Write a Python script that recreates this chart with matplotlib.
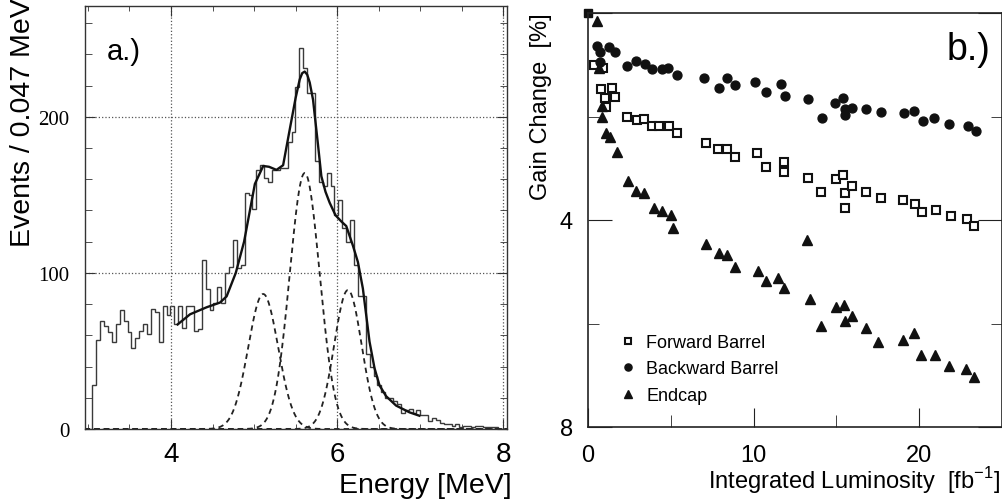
import numpy as np
import matplotlib
matplotlib.use("Agg")
from matplotlib import pyplot as plt
from matplotlib.ticker import MultipleLocator, FixedLocator

plt.rcParams['font.family'] = ['Liberation Sans', 'DejaVu Sans']
plt.rcParams['mathtext.fontset'] = 'custom'
plt.rcParams['mathtext.rm'] = 'Liberation Sans'

# ─── panel a: energy spectrum ─────────────────────────────────
BIN_START = 3.054
BIN_WIDTH = 0.047
counts = [28, 57, 69, 66, 62, 56, 67, 76, 69, 62, 52, 58, 63, 67, 61, 77, 75, 56,
          79, 73, 79, 67, 79, 65, 79, 79, 63, 64,
          108, 90, 76, 81, 91, 81, 100, 104, 121, 103, 105,
          151, 150, 141, 166, 169, 161, 158, 166, 166, 167,
          167, 184, 190, 219, 244,
          231, 215, 215, 172, 158, 156, 164, 156, 137, 147, 129, 120, 134, 105, 85, 85,
          48, 40, 34, 28, 24, 20, 20, 18, 16, 10, 12, 13, 10, 12, 9, 9, 5, 7, 6, 4,
          3, 3, 2, 3, 1, 2, 2, 1, 2, 2, 1, 1, 1, 1, 0]

# three gaussian lines (dashed)
peak_mu = [5.11, 5.61, 6.13]
peak_amp = [86.5, 164.0, 89.0]
peak_sigma = [0.18, 0.18, 0.165]

# total fit (solid)
fit_E = [4.08, 4.23, 4.43, 4.59, 4.67, 4.78, 4.88, 5.01, 5.11, 5.18, 5.27, 5.35,
         5.43, 5.50, 5.55, 5.58, 5.61, 5.64, 5.67, 5.71, 5.77, 5.81, 5.86, 5.91,
         5.98, 6.05, 6.11, 6.19, 6.25, 6.31, 6.35, 6.39, 6.45, 6.51, 6.59, 6.71,
         6.87, 6.99]
fit_c = [67, 73.5, 78, 81, 85, 100, 120, 157, 168.5, 168, 166, 169,
         192, 212, 224, 228, 229, 227, 222, 211, 182, 162, 152, 145,
         137, 133, 130, 117.5, 107, 90, 73, 56, 39, 28, 21, 15,
         10.7, 8.5]

# ─── panel b: gain change vs luminosity ───────────────────────
fwd_x = [0.36, 0.93, 0.77, 1.43, 1.03, 1.63, 1.09, 2.34, 2.94, 3.40, 3.85, 4.29, 4.91,
         5.40, 7.11, 7.88, 8.38, 8.90, 10.23, 10.76, 11.86, 11.86, 13.31, 14.08, 14.98,
         15.37, 15.49, 15.97, 15.53, 16.80, 17.68, 19.01, 19.76, 20.16, 21.03, 21.91,
         22.88, 23.32]
fwd_y = [1.00, 1.07, 1.47, 1.45, 1.64, 1.62, 1.81, 2.00, 2.06, 2.04, 2.18, 2.19, 2.19,
         2.32, 2.51, 2.63, 2.62, 2.79, 2.71, 2.98, 2.87, 3.08, 3.18, 3.45, 3.21,
         3.14, 3.48, 3.34, 3.77, 3.45, 3.57, 3.61, 3.70, 3.84, 3.80, 3.93,
         3.98, 4.12]

bwd_x = [0.52, 0.73, 1.29, 1.63, 0.73, 2.34, 2.90, 3.44, 3.85, 4.49, 4.85, 5.36, 7.03,
         7.90, 8.40, 8.88, 10.07, 10.76, 11.66, 11.88, 13.31, 14.14, 14.90, 15.39,
         15.51, 15.51, 15.97, 16.78, 17.70, 19.09, 19.66, 20.20, 20.91, 21.81, 22.92,
         23.40]
bwd_y = [0.63, 0.75, 0.66, 0.75, 0.95, 1.02, 0.93, 0.98, 1.08, 1.08, 1.06, 1.19, 1.26,
         1.45, 1.26, 1.40, 1.34, 1.53, 1.38, 1.60, 1.66, 2.02, 1.73, 1.64,
         1.86, 1.98, 1.84, 1.86, 1.92, 1.94, 1.90, 2.09, 2.02, 2.15, 2.19,
         2.28]

end_x = [0.56, 0.68, 0.83, 0.83, 1.09, 1.33, 1.73, 2.44, 2.88, 3.40, 3.99, 4.49, 5.02,
         5.12, 7.13, 7.90, 8.38, 8.86, 10.29, 10.72, 11.50, 11.84, 13.23, 13.41, 14.96,
         15.43, 14.08, 15.49, 15.97, 16.80, 17.50, 19.01, 19.66, 20.10, 20.97, 21.81,
         22.84, 23.32]
end_y = [0.15, 1.06, 1.80, 2.00, 2.31, 2.40, 2.69, 3.24, 3.43, 3.47, 3.77, 3.83, 3.90,
         4.15, 4.47, 4.64, 4.68, 4.90, 4.98, 5.17, 5.13, 5.32, 4.38, 5.53, 5.68,
         5.64, 6.04, 5.96, 5.85, 6.08, 6.36, 6.31, 6.18, 6.61, 6.61, 6.83,
         6.88, 7.04]

ref_x = [0.0]
ref_y = [0.0]

W, H = 1003, 502
fig = plt.figure(figsize=(W / 100, H / 100), dpi=100)

def px_box(l, t, r, b):
    return [l / W, 1 - b / H, (r - l) / W, (b - t) / H]

# ─── 1. Panel a ───────────────────────────────────────────────
ax1 = fig.add_axes(px_box(85, 7, 507, 430))
edges = BIN_START + BIN_WIDTH * np.arange(len(counts) + 1)
ax1.stairs(counts, edges, color='#3a3a3a', lw=1.0)

E = np.linspace(2.9, 8.1, 1200)
for mu, amp, sg in zip(peak_mu, peak_amp, peak_sigma):
    ax1.plot(E, amp * np.exp(-0.5 * ((E - mu) / sg) ** 2), color='#222222',
             lw=1.3, ls=(0, (3.0, 2.3)))

ax1.plot(fit_E, fit_c, color='#111111', lw=1.7, solid_joinstyle='round')

ax1.set_xlim(2.965, 8.045)
ax1.set_ylim(0, 271)
ax1.xaxis.set_major_locator(FixedLocator([4, 6, 8]))
ax1.xaxis.set_minor_locator(MultipleLocator(0.5))
ax1.set_yticks([0, 100, 200])
ax1.set_yticklabels(['0', '100', '200'], fontfamily='Liberation Serif', fontsize=15)
ax1.yaxis.set_minor_locator(MultipleLocator(20))
ax1.tick_params(which='both', direction='in', top=True, right=True, color='#333333')
ax1.tick_params(axis='x', which='major', length=7, labelsize=20, pad=9)
ax1.tick_params(axis='x', which='minor', length=3.6)
ax1.tick_params(axis='y', which='major', length=7, pad=11)
ax1.tick_params(axis='y', which='minor', length=5)
ax1.grid(True, which='major', ls=':', color='#555555', lw=0.9)
for s in ax1.spines.values():
    s.set_color('#333333')
    s.set_linewidth(1.0)

fig.text(107 / W, 1 - 60 / H, 'a.)', fontsize=21, ha='left', va='baseline')
fig.text(23 / W, 1 - 247 / H, 'Events / 0.047 MeV', rotation=90, ha='center',
         va='bottom', fontsize=20.5)
fig.text(512 / W, 1 - 493 / H, 'Energy [MeV]', ha='right', va='baseline', fontsize=20.5)

# ─── 2. Panel b ───────────────────────────────────────────────
ax2 = fig.add_axes(px_box(588, 14, 1002, 428))
ax2.plot(fwd_x, fwd_y, 's', mfc='white', mec='#111111', mew=1.5, ms=5.4,
         ls='none', label='Forward Barrel')
ax2.plot(bwd_x, bwd_y, 'o', color='#111111', ms=6.4, ls='none', label='Backward Barrel')
ax2.plot(end_x, end_y, '^', color='#111111', ms=7.2, ls='none', label='Endcap')
ax2.plot(ref_x, ref_y, 's', color='#111111', ms=5.5, ls='none', clip_on=False)

ax2.set_xlim(0, 25)
ax2.set_ylim(8, 0)
ax2.xaxis.set_major_locator(FixedLocator([0, 10, 20]))
ax2.xaxis.set_minor_locator(FixedLocator([5, 15]))
ax2.set_yticks([0, 4, 8])
ax2.set_yticklabels(['', '4', '8'])
ax2.yaxis.set_minor_locator(FixedLocator([2, 6]))
ax2.tick_params(which='both', direction='in', top=False, right=True, labelsize=17,
                color='#222222')
ax2.tick_params(axis='x', which='major', length=14, pad=12)
ax2.tick_params(axis='x', which='minor', length=8.6)
ax2.tick_params(axis='y', which='major', length=17, pad=11)
ax2.tick_params(axis='y', which='minor', length=8)
for s in ax2.spines.values():
    s.set_color('#222222')
    s.set_linewidth(1.2)

ax2.legend(loc='upper left', bbox_to_anchor=(0.075, 0.225), frameon=False, fontsize=13,
           handlelength=1.0, handletextpad=0.5, labelspacing=0.53, borderpad=0,
           borderaxespad=0, markerscale=0.8)

fig.text(947 / W, 1 - 60 / H, 'b.)', fontsize=27, ha='left', va='baseline')
fig.text(541 / W, 1 - 13 / H, 'Gain Change  [%]', rotation=90, ha='center', va='top',
         fontsize=17)
fig.text(1000 / W, 1 - 489 / H, r'Integrated Luminosity  [fb$^{-1}$]', ha='right',
         va='baseline', fontsize=17)

fig.savefig('out.png', dpi=100)
